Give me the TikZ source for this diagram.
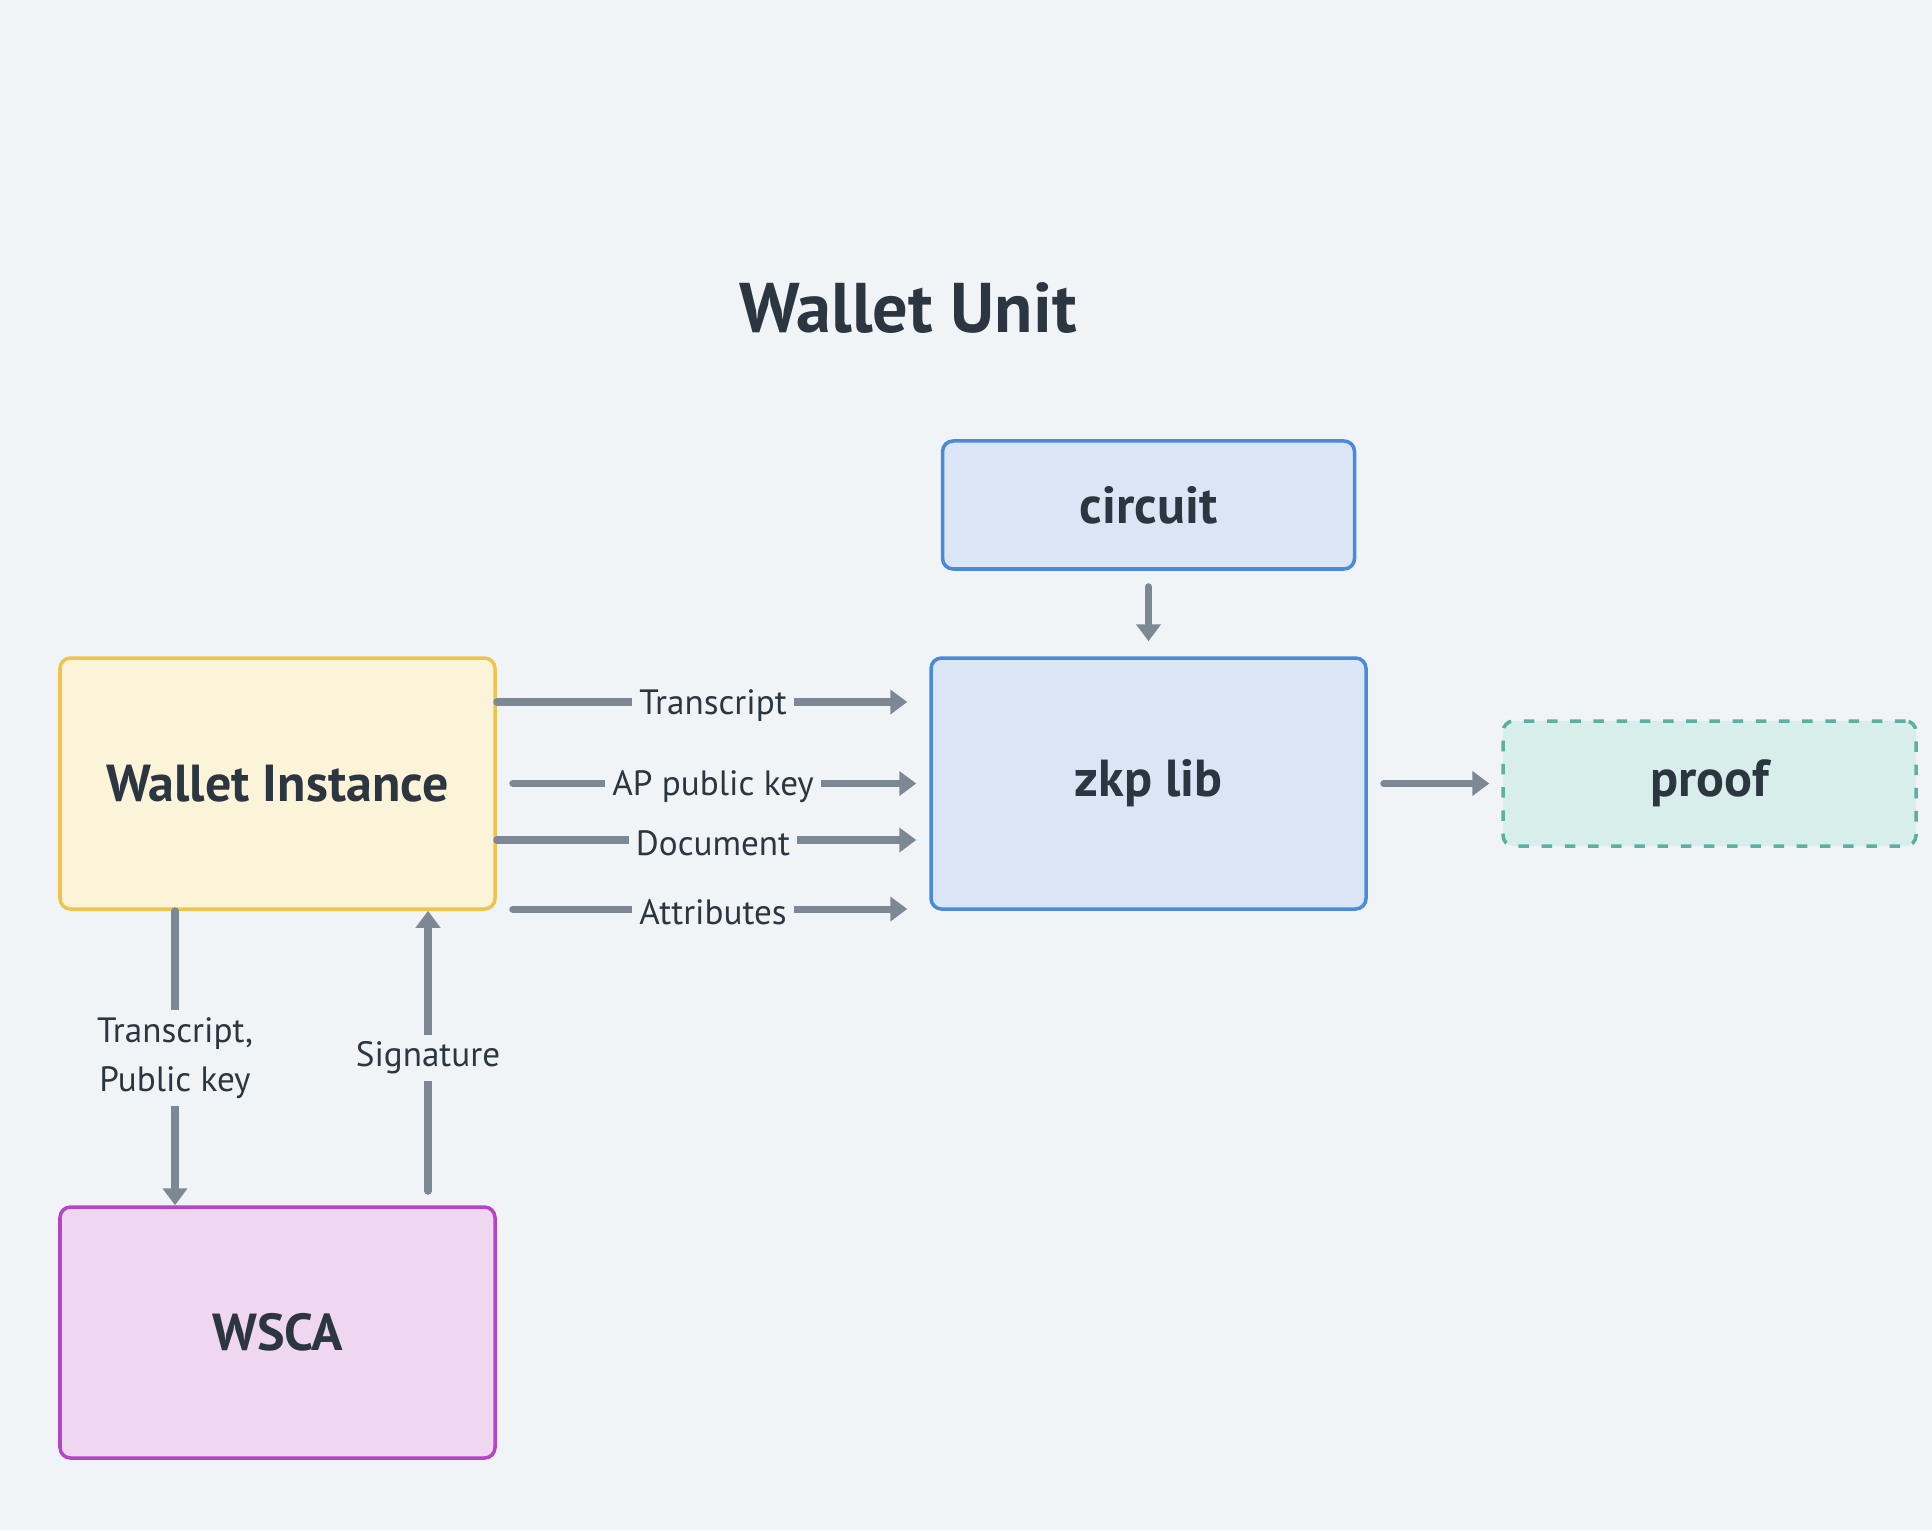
\documentclass[tikz,border=0pt]{standalone}
\usepackage{fontspec}
\setmainfont{PT Sans}
\usetikzlibrary{arrows.meta,positioning}
\definecolor{bgcol}{HTML}{F0F4F7}
\definecolor{ink}{HTML}{2B3640}
\definecolor{arrcol}{HTML}{7D8895}
\definecolor{wifill}{HTML}{FCF4D9}
\definecolor{wiborder}{HTML}{F0C44C}
\definecolor{zkfill}{HTML}{DAE6F5}
\definecolor{zkborder}{HTML}{4A8AD8}
\definecolor{prfill}{HTML}{D8EEEA}
\definecolor{prborder}{HTML}{5BB0A0}
\definecolor{wsfill}{HTML}{EFD7F2}
\definecolor{wsborder}{HTML}{B545C8}
\tikzset{
  block/.style={draw, line width=1pt, rounded corners=3pt, align=center, text=ink,
    font=\bfseries\fontsize{14.8}{17}\selectfont, minimum width=4.35cm,
    minimum height=2.51cm, inner sep=0pt},
  walletblock/.style={block, draw=wiborder, fill=wifill},
  zkpblock/.style={block, draw=zkborder, fill=zkfill},
  circuitblock/.style={zkpblock, minimum width=4.12cm, minimum height=1.28cm},
  proofblock/.style={block, draw=prborder, fill=prfill, dash pattern=on 3pt off 3.6pt,
    minimum width=4.13cm, minimum height=1.25cm},
  wscablock/.style={block, draw=wsborder, fill=wsfill},
  arr/.style={-{Triangle[length=1.7mm,width=2.4mm]}, line width=2pt, draw=arrcol,
    line cap=round},
  lbl/.style={fill=bgcol, text=ink, font=\fontsize{10}{14}\selectfont, inner sep=2pt,
    align=center}
}
\begin{document}
\begin{tikzpicture}
  \fill[bgcol] (0,0) rectangle (19.32,-15.30);
  \useasboundingbox (0,0) rectangle (19.32,-15.30);
  \node[text=ink, font=\bfseries\fontsize{20}{24}\selectfont] (title) at (9.08,-3.08) {Wallet Unit};
  \node[walletblock] (wi) at (2.775,-7.835) {Wallet Instance};
  \node[zkpblock, right=4.325cm of wi] (zkp) {zkp lib};
  \node[circuitblock, above=0.855cm of zkp] (circ) {circuit};
  \node[proofblock, right=1.335cm of zkp] (proof) {proof};
  \node[wscablock, below=2.945cm of wi] (wsca) {WSCA};
  % inputs of the zkp lib
  \draw[arr, shorten >=0.22cm] ([yshift=0.815cm]wi.east) -- node[lbl, yshift=-1pt] {Transcript} ([yshift=0.815cm]zkp.west);
  \draw[arr, shorten <=0.16cm, shorten >=0.13cm] (wi.east) -- node[lbl, yshift=-1pt] {AP public key} (zkp.west);
  \draw[arr, shorten >=0.13cm] ([yshift=-0.565cm]wi.east) -- node[lbl, yshift=-1pt] {Document} ([yshift=-0.565cm]zkp.west);
  \draw[arr, shorten <=0.16cm, shorten >=0.22cm] ([yshift=-1.255cm]wi.east) -- node[lbl, yshift=-1pt] {Attributes} ([yshift=-1.255cm]zkp.west);
  \draw[arr, shorten <=0.16cm, shorten >=0.15cm] (circ) -- (zkp);
  \draw[arr, shorten <=0.16cm, shorten >=0.12cm] (zkp) -- (proof);
  % wallet instance and wsca
  \draw[arr] ([xshift=-1.025cm]wi.south) -- node[lbl] {Transcript,\\Public key} ([xshift=-1.025cm]wsca.north);
  \draw[arr, shorten <=0.14cm] ([xshift=1.505cm]wsca.north) -- node[lbl] {Signature} ([xshift=1.505cm]wi.south);
\end{tikzpicture}
\end{document}
